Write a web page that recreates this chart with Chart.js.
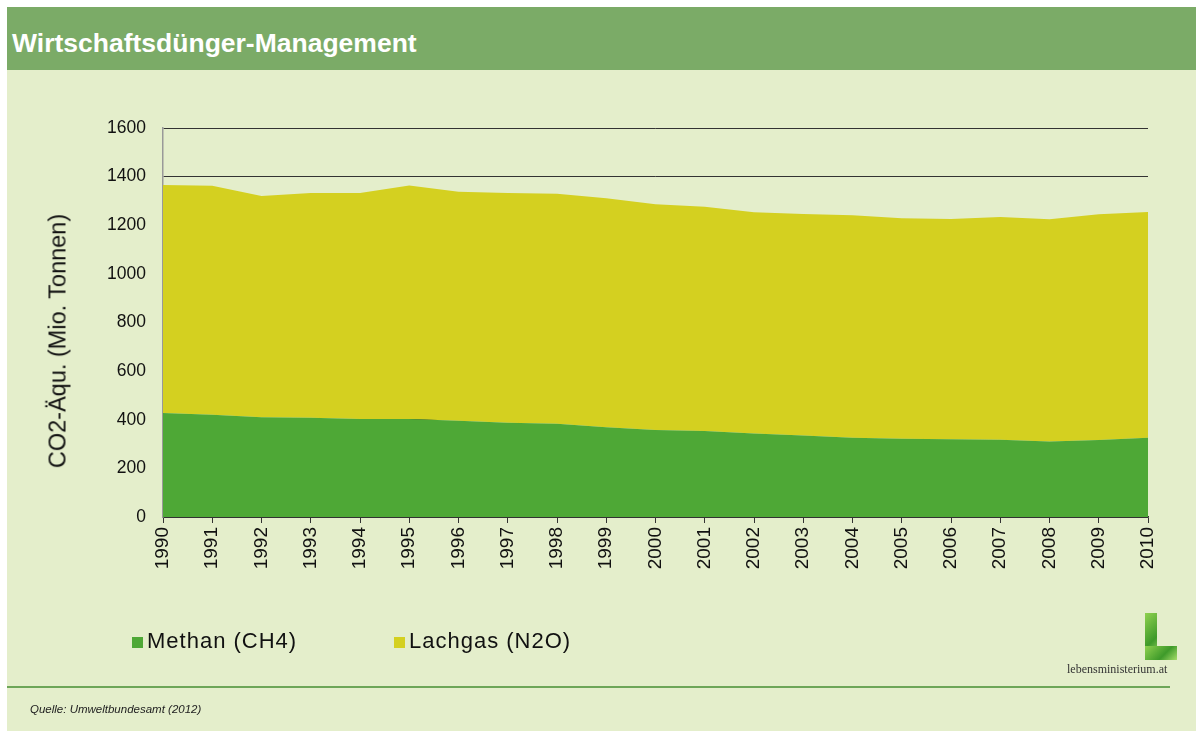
<!DOCTYPE html>
<html>
<head>
<meta charset="utf-8">
<script src="https://cdn.jsdelivr.net/npm/chart.js@4"></script>
<style>
  body { margin: 0; background: #fff; width: 1196px; height: 731px; overflow: hidden; font-family: "Liberation Sans", Arial, sans-serif; }
  #panel { position: absolute; left: 7px; top: 7px; width: 1189px; height: 724px; background: #E4EECB; }
  #head { position: absolute; left: 0; top: 0; width: 1189px; height: 63px; background: #7BAB67; }
  #head span { position: absolute; left: 5px; top: 21px; color: #fff; font-weight: bold; font-size: 26.5px; }
  #chart-box { position: absolute; left: 0; top: 0; width: 1196px; height: 731px; }
  #ytitle { position: absolute; left: 58px; top: 341px; transform: translate(-50%, -50%) rotate(-90deg);
            white-space: nowrap; font-size: 23.5px; color: #111; }
  .leg { position: absolute; top: 628px; font-size: 22px; letter-spacing: 1px; color: #111; }
  .leg i { display: inline-block; width: 11px; height: 11px; margin-right: 4px; }
  #rule { position: absolute; left: 7px; top: 686px; width: 1163px; height: 2px; background: #6DA658; }
  #src { position: absolute; left: 30px; top: 703px; font-size: 11.5px; font-style: italic; color: #222; }
  #logo { position: absolute; left: 1145px; top: 613px; width: 32px; height: 47px; }
  #logo div { position: absolute; background: linear-gradient(135deg, #8fd14f, #3e9a2a 60%, #a7dd6a); }
  #logo-text { position: absolute; left: 1067px; top: 662px; font-family: "Liberation Serif", serif; font-size: 12px; color: #333; }
</style>
</head>
<body>
<div id="panel"><div id="head"><span>Wirtschaftsdünger-Management</span></div></div>
<div id="chart-box"><canvas id="chart" width="1196" height="731"></canvas></div>
<div id="ytitle">CO2-Äqu. (Mio. Tonnen)</div>
<div class="leg" style="left:132px"><i style="background:#4EA836"></i>Methan (CH4)</div>
<div class="leg" style="left:394px"><i style="background:#D4D020"></i>Lachgas (N2O)</div>
<div id="logo"><div style="left:0;top:0;width:12px;height:47px"></div><div style="left:0;top:33px;width:32px;height:14px"></div></div>
<div id="logo-text">lebensministerium.at</div>
<div id="rule"></div>
<div id="src">Quelle: Umweltbundesamt (2012)</div>
<script>
const years = ["1990","1991","1992","1993","1994","1995","1996","1997","1998","1999","2000",
               "2001","2002","2003","2004","2005","2006","2007","2008","2009","2010"];
// Methan (CH4)
const methan = [428, 421, 410, 408, 403, 403, 396, 388, 384, 369, 358,
                354, 343, 335, 326, 322, 320, 318, 311, 317, 326];
// Lachgas (N2O), stacked on top of methan
const lachgas = [938, 941, 910, 925, 930, 960, 942, 945, 946, 942, 928,
                 922, 910, 911, 915, 907, 906, 916, 914, 928, 929];
const yTicks = [0, 200, 400, 600, 800, 1000, 1200, 1400, 1600];

const ctx = document.getElementById("chart").getContext("2d");
new Chart(ctx, {
    type: "line",
    data: {
        labels: years,
        datasets: [
            {
                label: "Methan (CH4)",
                data: methan,
                backgroundColor: "#4EA836",
                borderWidth: 0,
                pointRadius: 0,
                fill: "origin"
            },
            {
                label: "Lachgas (N2O)",
                data: lachgas,
                backgroundColor: "#D4D020",
                borderWidth: 0,
                pointRadius: 0,
                fill: "-1"
            }
        ]
    },
    options: {
        responsive: false,
        animation: false,
        layout: { padding: { left: 42, right: 48, top: 128, bottom: 151 } },
        plugins: { legend: { display: false }, tooltip: { enabled: false } },
        scales: {
            x: {
                offset: false,
                afterFit: (s) => { s.height = 63; },
                grid: { drawOnChartArea: false, drawTicks: true, tickLength: 6, color: "#333" },
                border: { color: "#333", width: 1.5 },
                ticks: { minRotation: 90, maxRotation: 90, padding: 4, color: "#111",
                         font: { family: "Liberation Sans", size: 19 } }
            },
            y: {
                stacked: true,
                min: 0,
                max: 1600,
                afterFit: (s) => { s.width = 121; },
                afterBuildTicks: (s) => { s.ticks = yTicks.map(v => ({ value: v })); },
                grid: { drawTicks: false, color: "#333", lineWidth: 1 },
                border: { color: "#999", width: 1.5 },
                ticks: { padding: 17, color: "#111", font: { family: "Liberation Sans", size: 17.5 },
                         callback: (v) => String(v) }
            }
        }
    }
});
</script>
</body>
</html>
